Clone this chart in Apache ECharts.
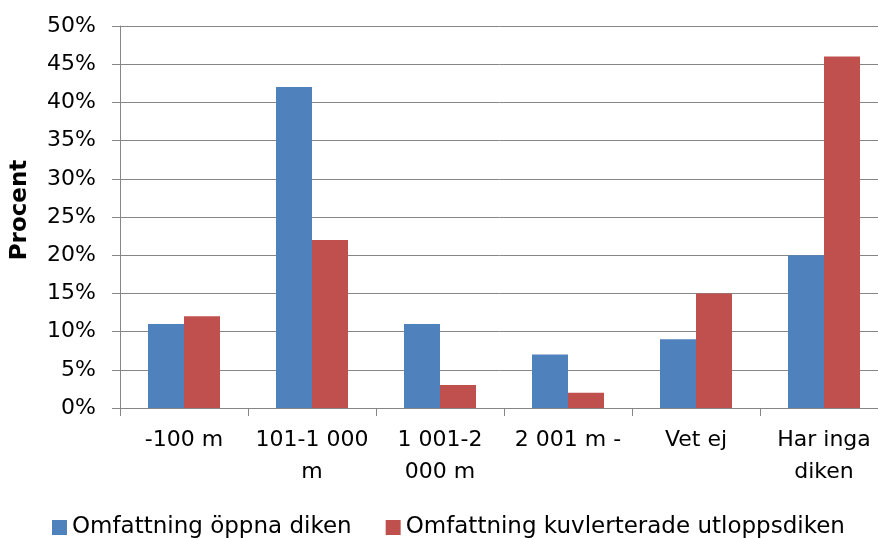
<!DOCTYPE html>
<html>
<head>
<meta charset="utf-8">
<script src="https://cdn.jsdelivr.net/npm/echarts@6/dist/echarts.min.js"></script>
<style>html,body{margin:0;padding:0;background:#fff;}#c{width:878px;height:538px;}</style>
</head>
<body>
<div id="c"></div>
<script>
const categories = ['-100 m', '101-1 000\nm', '1 001-2\n000 m', '2 001 m -', 'Vet ej', 'Har inga\ndiken'];
const seriesNames = ['Omfattning öppna diken', 'Omfattning kuvlerterade utloppsdiken'];
const openDitches = [11, 42, 11, 7, 9, 20];
const culvertDitches = [12, 22, 3, 2, 15, 46];
const yTicks = [0, 5, 10, 15, 20, 25, 30, 35, 40, 45, 50];
const yTitle = 'Procent';

const FONT = 'DejaVu Sans';
const chart = echarts.init(document.getElementById('c'), null, {renderer: 'canvas'});
chart.setOption({
  animation: false,
  textStyle: {fontFamily: FONT},
  grid: {left: 120, width: 768, top: 26, height: 382, containLabel: false, outerBoundsMode: 'none'},
  legend: {
    left: 52, top: 516,
    itemWidth: 15, itemHeight: 15, itemGap: 34, padding: 0,
    icon: 'rect',
    textStyle: {fontFamily: FONT, fontSize: 23, color: '#000'},
    data: seriesNames
  },
  graphic: [{
    type: 'text', x: 20, y: 210, rotation: Math.PI / 2,
    style: {text: yTitle, fontFamily: FONT, fontSize: 23, fontWeight: 'bold', fill: '#000',
            align: 'center', verticalAlign: 'middle'}
  }],
  xAxis: {
    type: 'category',
    data: categories,
    axisLine: {show: true, lineStyle: {color: '#868686', width: 1}},
    axisTick: {show: true, length: 8, lineStyle: {color: '#868686'}},
    axisLabel: {fontFamily: FONT, fontSize: 22, color: '#000', margin: 16, lineHeight: 32, interval: 0}
  },
  yAxis: {
    type: 'value', min: yTicks[0], max: yTicks[yTicks.length - 1], interval: 5,
    axisLine: {show: true, lineStyle: {color: '#868686', width: 1}},
    axisTick: {show: true, length: 8, lineStyle: {color: '#868686'}},
    splitLine: {show: true, lineStyle: {color: '#868686', width: 1}},
    axisLabel: {fontFamily: FONT, fontSize: 22, color: '#000', margin: 24, formatter: v => v + '%'}
  },
  series: [
    {name: seriesNames[0], type: 'bar', data: openDitches, barWidth: 36, barGap: '0%',
     itemStyle: {color: '#4F81BD'}},
    {name: seriesNames[1], type: 'bar', data: culvertDitches, barWidth: 36, barGap: '0%',
     itemStyle: {color: '#C0504D'}}
  ]
});
</script>
</body>
</html>
